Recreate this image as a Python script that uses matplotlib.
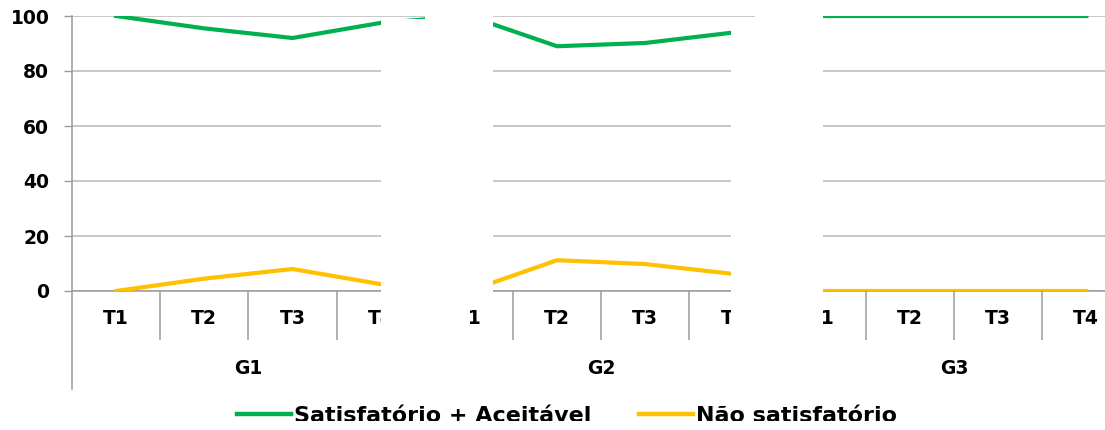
import matplotlib
matplotlib.use("Agg")
import matplotlib.pyplot as plt
from matplotlib.patches import Polygon, Rectangle
from matplotlib.transforms import blended_transform_factory
import numpy as np

groups = ["G1", "G2", "G3"]
periods = ["T1", "T2", "T3", "T4"]

satisfatorio = [100, 95.5, 92, 97.5,
                100, 89, 90.2, 94,
                100, 100, 100, 100]
nao_satisfatorio = [0, 4.5, 8, 2.5,
                    0, 11.2, 9.8, 6.2,
                    0, 0, 0, 0]

GREEN = "#00b050"
YELLOW = "#ffc000"
GRID = "#b8b8b8"
AXIS = "#9a9a9a"

W, H = 1105, 430
fig = plt.figure(figsize=(W / 100, H / 100), dpi=100)
# plot area: 12 categories of 88.2 px each, running past the right edge
ax = fig.add_axes([72 / W, (H - 291) / H, 12 * 88.2 / W, 275 / H])

x = np.arange(len(satisfatorio))
ax.plot(x, satisfatorio, color=GREEN, lw=3, label="Satisfatório + Aceitável", zorder=3)
ax.plot(x, nao_satisfatorio, color=YELLOW, lw=3, label="Não satisfatório", zorder=3)

ax.set_xlim(-0.5, len(x) - 0.5)
ax.set_ylim(0, 100)
ax.set_yticks(range(0, 101, 20))
ax.tick_params(axis="y", length=5.8, width=1, color=AXIS, pad=10.5,
               labelsize=13.5)
for lbl in ax.get_yticklabels():
    lbl.set_fontweight("bold")
ax.grid(axis="y", color=GRID, lw=1.1)

for s in ["top", "right", "left"]:
    ax.spines[s].set_visible(False)
ax.spines["bottom"].set_color(AXIS)
ax.spines["bottom"].set_linewidth(1.1)

# inner separators between periods
ax.set_xticks(x)
ax.set_xticklabels([])
ax.tick_params(axis="x", which="major", length=0)
inner = [g * 4 + k + 0.5 for g in range(len(groups)) for k in range(3)]
ax.set_xticks(inner, minor=True)
ax.tick_params(axis="x", which="minor", direction="out", length=35.3,
               width=1.1, color=AXIS)

trans = blended_transform_factory(ax.transData, ax.transAxes)
low = -(389 - 291) / 275
# group boundaries reaching down to the group labels
for b in [-0.5, 3.5, 7.5, 11.5]:
    ax.plot([b, b], [1.0 if b == -0.5 else 0, low], color=AXIS, lw=1.1,
            transform=trans, clip_on=False, zorder=2)

for i, xi in enumerate(x):
    ax.text(xi, -(318 - 291) / 275, periods[i % 4], transform=trans,
            ha="center", va="center", fontsize=13.5, fontweight="bold")
for g, name in enumerate(groups):
    ax.text(g * 4 + 1.5, -(368 - 291) / 275, name, transform=trans,
            ha="center", va="center", fontsize=13.5, fontweight="bold")

# white panels covering the junctions between groups
def px(v):
    return (v - 72) / 88.2 - 0.5

def py(v):
    return (291 - v) / 275

panels = [
    [(425, 0), (493, 0), (493, 300), (470, 300), (470, 398),
     (381, 398), (381, 18.5), (425, 18.5)],
    [(755, 0), (823, 0), (823, 398), (731, 398), (731, 18.5), (755, 18.5)],
]
for pts in panels:
    poly = Polygon([(px(a), py(b)) for a, b in pts], closed=True,
                   facecolor="white", edgecolor="none", transform=trans,
                   clip_on=False, zorder=10)
    ax.add_patch(poly)

leg = fig.legend(loc="center", bbox_to_anchor=(567 / W, (H - 416) / H),
                 ncol=2, frameon=False, handlelength=2.45, handletextpad=0.15,
                 columnspacing=2.1, prop={"size": 16, "weight": "bold"})
for line in leg.get_lines():
    line.set_linewidth(3.2)

# bottom strip trims the legend text
fig.add_artist(Rectangle((0, 0), 1, (H - 421) / H, transform=fig.transFigure,
                         facecolor="white", edgecolor="none", zorder=20))

fig.savefig("out.png", dpi=100, facecolor="white")
